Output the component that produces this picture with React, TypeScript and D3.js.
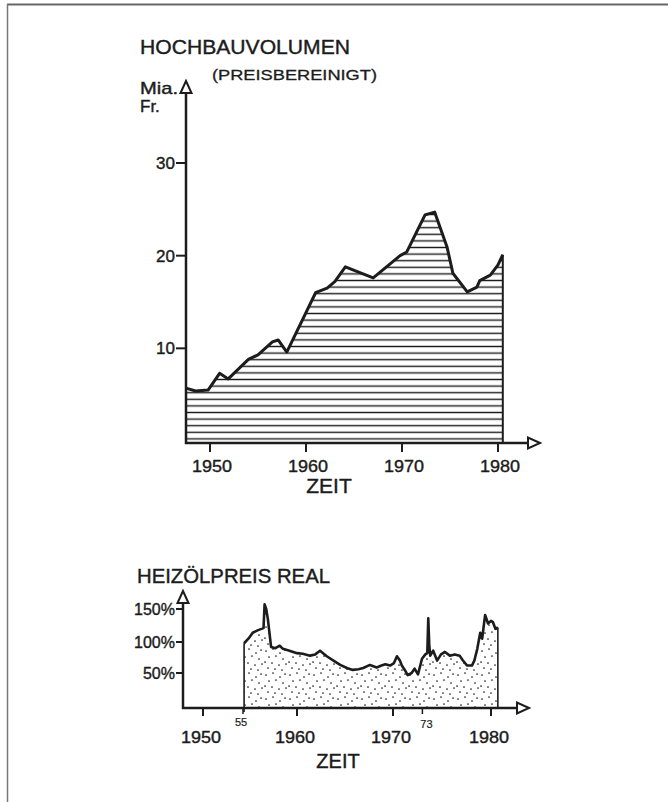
import React from 'react';
import * as d3 from 'd3';

// Hochbauvolumen (Mia. Fr., preisbereinigt)
const volYears = [1947.5, 1948.5, 1949.8, 1951.0, 1951.9, 1954.0, 1955.0, 1956.5, 1957.1, 1958.0, 1961.0, 1962.2, 1963.0, 1964.1, 1967.0, 1969.8, 1970.5, 1972.4, 1973.4, 1974.7, 1975.3, 1976.8, 1977.8, 1978.1, 1979.2, 1980.0, 1980.5];
const volValues = [5.7, 5.4, 5.5, 7.3, 6.7, 8.8, 9.3, 10.7, 10.9, 9.6, 16.0, 16.5, 17.2, 18.8, 17.6, 20.0, 20.4, 24.4, 24.7, 20.9, 18.1, 16.1, 16.6, 17.3, 17.9, 19.0, 20.1];
const volTicks = [10, 20, 30];
const volYearTicks = [1950, 1960, 1970, 1980];

// Heizölpreis real (%)
const oilYears = [1955.1, 1955.5, 1955.9, 1956.4, 1956.9, 1957.0, 1957.15, 1957.3, 1957.6, 1958.0, 1958.4, 1958.7, 1959.3, 1960.0, 1960.6, 1961.35, 1961.9, 1962.4, 1963.1, 1963.8, 1964.5, 1965.2, 1965.8, 1966.4, 1966.9, 1967.6, 1968.3, 1968.8, 1969.2, 1969.7, 1970.1, 1970.4, 1970.7, 1970.9, 1971.2, 1971.5, 1971.9, 1972.2, 1972.55, 1972.96, 1973.3, 1973.5, 1973.6, 1973.7, 1973.8, 1974.1, 1974.5, 1974.9, 1975.3, 1975.8, 1976.3, 1976.8, 1977.1, 1977.55, 1978.05, 1978.3, 1978.6, 1978.9, 1979.1, 1979.4, 1979.7, 1980.0, 1980.2, 1980.45, 1980.7];
const oilValues = [98, 105, 114, 118, 121, 157, 150, 135, 92, 90, 94, 89, 86, 82, 81, 78, 80, 86, 77, 70, 63, 58, 55, 56, 58, 63, 59, 62, 64, 62, 66, 77, 70, 62, 55, 47, 50, 57, 48, 73, 80, 82, 136, 95, 78, 86, 70, 80, 84, 78, 80, 78, 71, 62, 62, 70, 89, 114, 105, 141, 128, 132, 130, 120, 122];
const oilTicks = [50, 100, 150];
const oilYearTicks = [1950, 1960, 1970, 1980];
const oilMarks = [{ year: 1955, label: '55' }, { year: 1973, label: '73' }];

// stipple dots for the pattern tile (hand-placed)
const dots = [[2, 3], [9, 1], [16, 5], [21, 2], [5, 9], [12, 8], [19, 11], [1, 14], [8, 15], [15, 17], [22, 16], [4, 20], [11, 21], [18, 22]];

const ink = '#1c1c1c';
const font = '"Liberation Sans", Arial, sans-serif';
// felt-pen look for lettering
const pen = { fontFamily: font, fill: ink, stroke: ink, strokeWidth: 0.4 };

export default function App() {
  const x1 = d3.scaleLinear().domain([1950, 1980]).range([210, 498]);
  const y1 = d3.scaleLinear().domain([0, 30]).range([441, 163]);
  const vol = volYears.map((yr, i) => [yr, volValues[i]] as [number, number]);
  const area1 = d3.area<[number, number]>().x(d => x1(d[0])).y0(443).y1(d => y1(d[1]));
  const line1 = d3.line<[number, number]>().x(d => x1(d[0])).y(d => y1(d[1]));
  const last1 = vol[vol.length - 1];

  const x2 = d3.scaleLinear().domain([1950, 1955, 1960, 1970, 1980]).range([203, 243, 297, 393, 491]);
  const y2 = d3.scaleLinear().domain([0, 50, 100, 150]).range([708, 673, 642, 609]);
  const oil = oilYears.map((yr, i) => [yr, oilValues[i]] as [number, number]);
  const area2 = d3.area<[number, number]>().x(d => x2(d[0])).y0(708).y1(d => y2(d[1]));
  const line2 = d3.line<[number, number]>().x(d => x2(d[0])).y(d => y2(d[1]));
  const first2 = oil[0];
  const last2 = oil[oil.length - 1];

  return (
    <div style={{ position: 'fixed', left: 0, top: 0 }}>
      <svg width={668} height={802} style={{ display: 'block', background: '#fff' }}>
        <defs>
          <pattern id="hatch" patternUnits="userSpaceOnUse" width={40} height={6.6}>
            <line x1={0} x2={40} y1={3.3} y2={3.3} stroke={ink} strokeWidth={1.2} />
          </pattern>
          <pattern id="stipple" patternUnits="userSpaceOnUse" width={24} height={24}>
            {dots.map((d, i) => <circle key={i} cx={d[0]} cy={d[1]} r={0.85} fill={ink} />)}
          </pattern>
        </defs>

        {/* frame */}
        <line x1={7} x2={668} y1={4.5} y2={4.5} stroke="#666" strokeWidth={2} />
        <line x1={7.5} x2={7.5} y1={4} y2={802} stroke="#777" strokeWidth={1.5} />

        {/* ---------- top chart ---------- */}
        <g {...pen}>
          <text x={140} y={54} fontSize={20} textLength={210} lengthAdjust="spacingAndGlyphs">HOCHBAUVOLUMEN</text>
          <text x={212} y={80} fontSize={15} strokeWidth={0.3} textLength={165} lengthAdjust="spacingAndGlyphs">(PREISBEREINIGT)</text>
          <text x={140} y={94} fontSize={17} textLength={38} lengthAdjust="spacingAndGlyphs">Mia.</text>
          <text x={140} y={112} fontSize={17}>Fr.</text>
        </g>

        <path d={area1(vol) || ''} fill="url(#hatch)" />
        <path d={line1(vol) || ''} fill="none" stroke={ink} strokeWidth={3} strokeLinejoin="round" />
        <line x1={x1(last1[0])} x2={x1(last1[0])} y1={y1(last1[1])} y2={443} stroke={ink} strokeWidth={2} />

        <line x1={186} x2={186} y1={93} y2={444} stroke={ink} strokeWidth={2.5} />
        <path d="M186,81 L180.5,93 L191.5,93 Z" fill="#fff" stroke={ink} strokeWidth={2} />
        <line x1={185} x2={528} y1={443} y2={443} stroke={ink} strokeWidth={2.5} />
        <path d="M540,443 L528,437.5 L528,448.5 Z" fill="#fff" stroke={ink} strokeWidth={2} />

        {volTicks.map(t => (
          <g key={t}>
            <line x1={176} x2={186} y1={y1(t)} y2={y1(t)} stroke={ink} strokeWidth={2} />
            <text x={175} y={y1(t) + 6} textAnchor="end" fontSize={17} {...pen}>{t}</text>
          </g>
        ))}
        {volYearTicks.map(t => (
          <g key={t}>
            <line x1={x1(t)} x2={x1(t)} y1={443} y2={452} stroke={ink} strokeWidth={2} />
            <text x={x1(t) + 2} y={472} textAnchor="middle" fontSize={17} {...pen} textLength={40} lengthAdjust="spacingAndGlyphs">{t}</text>
          </g>
        ))}
        <text x={329} y={493} textAnchor="middle" fontSize={21} {...pen}>ZEIT</text>

        {/* ---------- bottom chart ---------- */}
        <text x={137} y={583} fontSize={20} {...pen} textLength={193} lengthAdjust="spacingAndGlyphs">HEIZÖLPREIS REAL</text>

        <path d={area2(oil) || ''} fill="url(#stipple)" />
        <line x1={x2(first2[0])} x2={x2(first2[0])} y1={y2(first2[1])} y2={712} stroke={ink} strokeWidth={1.6} />
        <line x1={x2(last2[0])} x2={x2(last2[0])} y1={y2(last2[1])} y2={708} stroke={ink} strokeWidth={1.6} />
        <path d={line2(oil) || ''} fill="none" stroke={ink} strokeWidth={2.6} strokeLinejoin="round" />

        <line x1={183} x2={183} y1={603} y2={709} stroke={ink} strokeWidth={2.5} />
        <path d="M183,591 L177.5,603 L188.5,603 Z" fill="#fff" stroke={ink} strokeWidth={2} />
        <line x1={182} x2={517} y1={708} y2={708} stroke={ink} strokeWidth={2.5} />
        <path d="M529,708 L517,702.5 L517,713.5 Z" fill="#fff" stroke={ink} strokeWidth={2} />

        {oilTicks.map(t => (
          <g key={t}>
            <line x1={176} x2={183} y1={y2(t)} y2={y2(t)} stroke={ink} strokeWidth={2} />
            <text x={175} y={y2(t) + 6} textAnchor="end" fontSize={16} {...pen}>{t}%</text>
          </g>
        ))}
        {oilYearTicks.map(t => (
          <g key={t}>
            <line x1={x2(t)} x2={x2(t)} y1={708} y2={716} stroke={ink} strokeWidth={2} />
            <text x={x2(t) - 2} y={743} textAnchor="middle" fontSize={16} {...pen} textLength={40} lengthAdjust="spacingAndGlyphs">{t}</text>
          </g>
        ))}
        {oilMarks.map(m => (
          <g key={m.label}>
            <line x1={x2(m.year)} x2={x2(m.year)} y1={708} y2={714} stroke={ink} strokeWidth={1.5} />
            <text x={x2(m.year) + (m.year === 1955 ? -2 : 4)} y={m.year === 1955 ? 726 : 728} textAnchor="middle" fontSize={11} {...pen} strokeWidth={0.2}>{m.label}</text>
          </g>
        ))}
        <text x={338} y={768} textAnchor="middle" fontSize={20} {...pen}>ZEIT</text>
      </svg>
    </div>
  );
}
